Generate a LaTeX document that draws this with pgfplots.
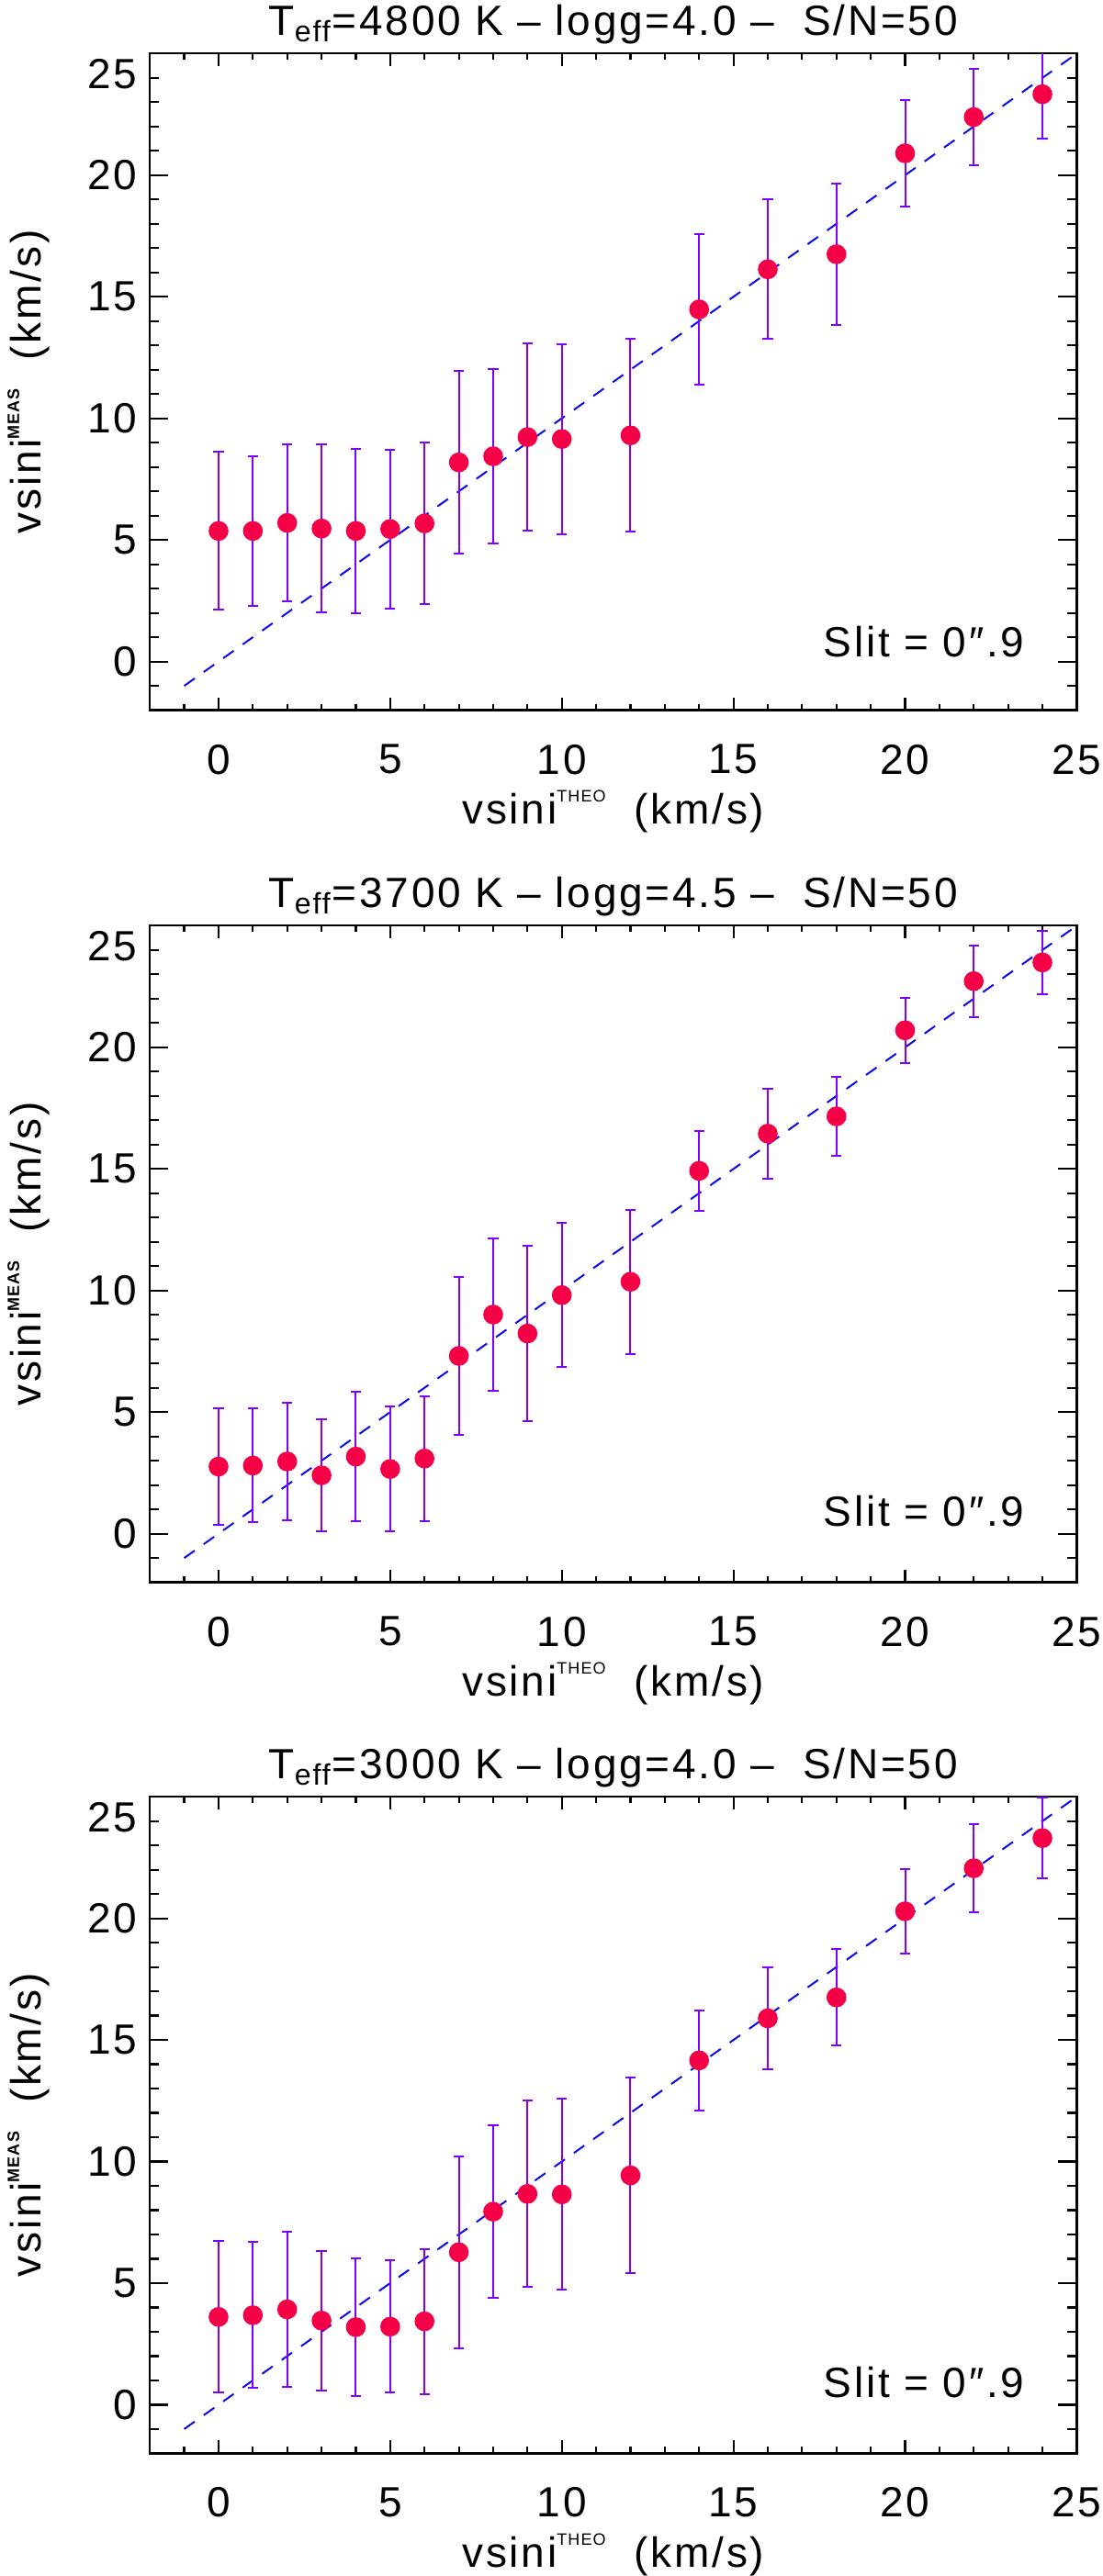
\documentclass[border=0pt]{standalone}
\usepackage{fontspec}
\setmainfont[LetterSpace=6]{Liberation Sans}
\usepackage{pgfplots}
\usepackage{pgfplotstable}
\pgfplotsset{compat=1.18}

\definecolor{ptred}{RGB}{245,0,70}
\definecolor{barviolet}{RGB}{128,0,255}
\definecolor{lineblue}{RGB}{10,10,235}

% x = vsini_THEO, y = vsini_MEAS, e = error
\pgfplotstableread{
x  y     e
0  5.37  3.25
1  5.37  3.08
2  5.70  3.23
3  5.47  3.45
4  5.37  3.37
5  5.45  3.26
6  5.68  3.31
7  8.19  3.76
8  8.44  3.60
9  9.23  3.85
10 9.15  3.91
12 9.30  3.96
14 14.48 3.09
16 16.13 2.87
18 16.75 2.90
20 20.90 2.18
22 22.39 1.98
24 23.33 1.84
}\dataA

\pgfplotstableread{
x  y     e
0  2.76  2.41
1  2.80  2.34
2  2.97  2.42
3  2.40  2.30
4  3.17  2.66
5  2.66  2.58
6  3.09  2.57
7  7.31  3.24
8  9.01  3.13
9  8.23  3.61
10 9.81  2.96
12 10.36 2.97
14 14.92 1.65
16 16.45 1.85
18 17.16 1.61
20 20.70 1.33
22 22.72 1.48
24 23.49 1.29
}\dataB

\pgfplotstableread{
x  y     e
0  3.61  3.11
1  3.68  3.00
2  3.92  3.19
3  3.46  2.87
4  3.19  2.83
5  3.21  2.72
6  3.43  2.98
7  6.27  3.95
8  7.94  3.56
9  8.67  3.84
10 8.65  3.93
12 9.43  4.03
14 14.16 2.06
16 15.89 2.11
18 16.75 1.98
20 20.29 1.75
22 22.06 1.80
24 23.30 1.67
}\dataC

\pgfplotsset{
  panel/.style={
    scale only axis, width=252.3pt, height=178.8pt, anchor=south west,
    xmin=-2, xmax=25, ymin=-2, ymax=25,
    xtick={0,5,...,25}, ytick={0,5,...,20},
    extra y ticks={25},
    extra y tick style={yticklabel style={yshift=-5.5pt}},
    minor xtick={-1,0,...,24}, minor ytick={-1,0,...,24},
    tick align=inside, tick pos=both,
    xticklabel pos=bottom, yticklabel pos=left,
    xtick style={/pgfplots/major tick length=3.5pt, /pgfplots/minor tick length=1.75pt},
    ytick style={/pgfplots/major tick length=5pt, /pgfplots/minor tick length=2.5pt},
    axis line style={line width=0.55pt, black},
    every tick/.append style={line width=0.55pt, black},
    font=\fontsize{11.5}{13}\selectfont,
    /pgf/number format/assume math mode=true,
    xticklabel style={yshift=-5.8pt},
    title style={at={(axis description cs:0.5,1)}, anchor=base, yshift=-1pt},
    xlabel style={at={(axis description cs:0.5,0)}, anchor=base, yshift=-31pt},
    ylabel style={at={(axis description cs:-0.1173,0.5)}, anchor=base},
    xlabel={vsini\raisebox{0.52em}{\fontsize{4.5}{5}\selectfont THEO}\ \ (km/s)},
    ylabel={vsini\raisebox{0.52em}{\fontsize{4.5}{5}\selectfont\bfseries MEAS}\ \ (km/s)},
  },
  pts/.style={only marks, mark=*, mark size=2.5pt, color=ptred,
    mark options={fill=ptred, draw=ptred},
    error bars/.cd, y dir=both, y explicit,
    error bar style={barviolet, line width=0.5pt},
    error mark options={rotate=90, mark size=1.4pt, barviolet, line width=0.5pt}},
  oneone/.style={lineblue, line width=0.5pt, dash pattern=on 3.5pt off 3pt},
}

\begin{document}
\begin{tikzpicture}
\useasboundingbox (0,0) rectangle (300pt,701.5pt);

\begin{axis}[panel, at={(40.8pt,508.1pt)},
  title={T\textsubscript{eff}=4800 K – logg=4.0 –\ \ S/N=50}]
  \addplot[oneone] coordinates {(-1,-1) (25,25)};
  \addplot[pts] table[x=x, y=y, y error=e] {\dataA};
  \node[anchor=base east, inner sep=0pt] at (axis cs:23.5,0.2) {Slit = 0″.9};
\end{axis}

\begin{axis}[panel, at={(40.8pt,270.6pt)},
  title={T\textsubscript{eff}=3700 K – logg=4.5 –\ \ S/N=50}]
  \addplot[oneone] coordinates {(-1,-1) (25,25)};
  \addplot[pts] table[x=x, y=y, y error=e] {\dataB};
  \node[anchor=base east, inner sep=0pt] at (axis cs:23.5,0.3) {Slit = 0″.9};
\end{axis}

\begin{axis}[panel, at={(40.8pt,33.4pt)},
  title={T\textsubscript{eff}=3000 K – logg=4.0 –\ \ S/N=50}]
  \addplot[oneone] coordinates {(-1,-1) (25,25)};
  \addplot[pts] table[x=x, y=y, y error=e] {\dataC};
  \node[anchor=base east, inner sep=0pt] at (axis cs:23.5,0.3) {Slit = 0″.9};
\end{axis}
\end{tikzpicture}
\end{document}
